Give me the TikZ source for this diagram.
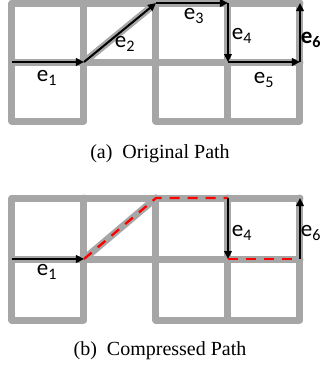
\documentclass[tikz,border=0pt]{standalone}
\usepackage{fontspec}
\setmainfont{Liberation Serif}
\newfontfamily\lblfont{Carlito}
\usetikzlibrary{arrows.meta}
\definecolor{gridgray}{HTML}{A6A6A6}
\tikzset{
  gridline/.style={draw=gridgray,line width=7pt,line cap=round,line join=round},
  patharrow/.style={draw=black,line width=2pt,-{Triangle[length=8pt,width=7.5pt]}},
  comp/.style={draw=red,line width=2.3pt,dash pattern=on 10pt off 8pt},
  lbl/.style={font=\lblfont\fontsize{23}{26}\selectfont,inner sep=0pt},
  captxt/.style={font=\fontsize{20}{24}\selectfont,inner sep=0pt}
}
\begin{document}
\begin{tikzpicture}[x=1pt,y=-1pt]
\useasboundingbox (0,0) rectangle (321,368);
% ---------- (a) ----------
\begin{scope}
\coordinate (a00) at (12,3);   \coordinate (a10) at (84,3);   \coordinate (a20) at (156,3);  \coordinate (a30) at (228,3);  \coordinate (a40) at (300,3);
\coordinate (a01) at (12,62);  \coordinate (a11) at (84,62);  \coordinate (a21) at (156,62); \coordinate (a31) at (228,62); \coordinate (a41) at (300,62);
\coordinate (a02) at (12,121); \coordinate (a12) at (84,121); \coordinate (a22) at (156,121);\coordinate (a32) at (228,121);\coordinate (a42) at (300,121);
\path[gridline] (a40) -- (a00) -- (a02) -- (a12) -- (a10);
\path[gridline] (a01) -- (a41);
\path[gridline] (a20) -- (a22) -- (a42) -- (a40);
\path[gridline] (a30) -- (a32);
\path[gridline] (a11) -- (a20);
\draw[patharrow] (a01) -- (a11);
\draw[patharrow] (a11) -- (a20);
\draw[patharrow] (a20) -- (a30);
\draw[patharrow] (a30) -- (a31);
\draw[patharrow] (a31) -- (a41);
\draw[patharrow] (a41) -- (a40);
\node[lbl] (ae1) at (47,78) {e\textsubscript{1}};
\node[lbl] (ae2) at (125,44) {e\textsubscript{2}};
\node[lbl] (ae3) at (194,16) {e\textsubscript{3}};
\node[lbl] (ae4) at (242,36) {e\textsubscript{4}};
\node[lbl] (ae5) at (264,80) {e\textsubscript{5}};
\node[lbl] (ae6) at (311,40) {\bfseries e\textsubscript{6}};
\node[captxt] (capa) at (160,154) {(a)\enspace Original Path};
\end{scope}
% ---------- (b) ----------
\begin{scope}
\coordinate (b00) at (12,198);  \coordinate (b10) at (84,198);  \coordinate (b20) at (156,198); \coordinate (b30) at (228,198); \coordinate (b40) at (300,198);
\coordinate (b01) at (12,259);  \coordinate (b11) at (84,259);  \coordinate (b21) at (156,259); \coordinate (b31) at (228,259); \coordinate (b41) at (300,259);
\coordinate (b02) at (12,320);  \coordinate (b12) at (84,320);  \coordinate (b22) at (156,320); \coordinate (b32) at (228,320); \coordinate (b42) at (300,320);
\path[gridline] (b40) -- (b00) -- (b02) -- (b12) -- (b10);
\path[gridline] (b01) -- (b41);
\path[gridline] (b20) -- (b22) -- (b42) -- (b40);
\path[gridline] (b30) -- (b32);
\path[gridline] (b11) -- (b20);
\draw[patharrow] (b01) -- (b11);
\draw[comp] (b11) -- (b20) -- (b30);
\draw[patharrow] (b30) -- (b31);
\draw[comp] (b31) -- (b41);
\draw[patharrow] (b41) -- (b40);
\node[lbl] (be1) at (47,272) {e\textsubscript{1}};
\node[lbl] (be4) at (242,233) {e\textsubscript{4}};
\node[lbl] (be6) at (311,233) {e\textsubscript{6}};
\node[captxt] (capb) at (160,351) {(b)\enspace Compressed Path};
\end{scope}
\end{tikzpicture}
\end{document}
